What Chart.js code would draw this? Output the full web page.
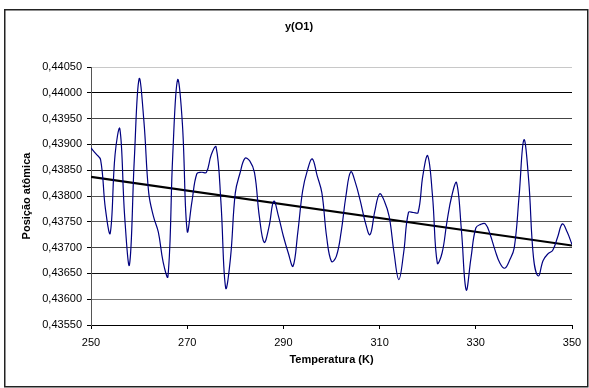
<!DOCTYPE html>
<html lang="pt">
<head>
<meta charset="UTF-8">
<title>y(O1)</title>
<script src="https://cdn.jsdelivr.net/npm/chart.js"></script>
<style>
  body { margin: 0; background: #fff; }
  canvas { display: block; }
</style>
</head>
<body>
<canvas id="chart" width="589" height="388"></canvas>
<script>
// temperature (K) and atomic position y(O1)
const temps = [
  250, 251, 252, 253, 254, 255, 256, 257, 258, 259,
  260, 261, 262, 263, 264, 265, 266, 267, 268, 269,
  270, 271, 272, 273, 274, 275, 276, 277, 278, 279,
  280, 281, 282, 283, 284, 285, 286, 287, 288, 289,
  290, 291, 292, 293, 294, 295, 296, 297, 298, 299,
  300, 301, 302, 303, 304, 305, 306, 307, 308, 309,
  310, 311, 312, 313, 314, 315, 316, 317, 318, 319,
  320, 321, 322, 323, 324, 325, 326, 327, 328, 329,
  330, 331, 332, 333, 334, 335, 336, 337, 338, 339,
  340, 341, 342, 343, 344, 345, 346, 347, 348, 349,
  350
];
const posO1 = [
  0.43893, 0.43882, 0.43870, 0.43775, 0.43728, 0.43880, 0.43930, 0.43760, 0.43667, 0.43870,
  0.44027, 0.43945, 0.43806, 0.43760, 0.43730, 0.43672, 0.43644, 0.43880, 0.44025, 0.43940,
  0.43732, 0.43790, 0.43843, 0.43846, 0.43846, 0.43880, 0.43895, 0.43790, 0.43622, 0.43680,
  0.43806, 0.43845, 0.43873, 0.43868, 0.43845, 0.43760, 0.43710, 0.43740, 0.43790, 0.43760,
  0.43722, 0.43690, 0.43664, 0.43730, 0.43810, 0.43850, 0.43872, 0.43840, 0.43806, 0.43720,
  0.43673, 0.43683, 0.43730, 0.43800, 0.43847, 0.43825, 0.43790, 0.43750, 0.43725, 0.43770,
  0.43804, 0.43790, 0.43760, 0.43690, 0.43638, 0.43690, 0.43768, 0.43768, 0.43768, 0.43840,
  0.43878, 0.43800, 0.43670, 0.43690, 0.43750, 0.43800, 0.43826, 0.43735, 0.43618, 0.43680,
  0.43738, 0.43745, 0.43746, 0.43725, 0.43695, 0.43670, 0.43660, 0.43675, 0.43700, 0.43800,
  0.43909, 0.43830, 0.43680, 0.43645, 0.43675, 0.43688, 0.43695, 0.43720, 0.43746, 0.43730,
  0.43706
];

// linear trend endpoints
const trendTemps = [250, 350];
const trendPos = [0.43837, 0.43704];

const yMin = 0.43550, yMax = 0.44050, yStep = 0.0005;
const xMin = 250, xMax = 350, xStep = 20;

// gridline shades, bottom to top
const gridShades = ['#000', '#777', '#111', '#444', '#555', '#555', '#222', '#111', '#444', '#000', '#c8c8c8'];

const FONT = '"Liberation Sans", Arial, sans-serif';

const frame = {
  id: 'frame',
  afterDraw(chart) {
    const c = chart.ctx;
    c.save();
    c.strokeStyle = '#222';
    c.lineWidth = 1.5;
    c.strokeRect(4.75, 9.75, 583, 377);
    c.fillStyle = '#000';
    c.font = 'bold 11px ' + FONT;
    c.textAlign = 'center';
    c.textBaseline = 'middle';
    c.fillText('y(O1)', 299, 27);
    c.restore();
  }
};

new Chart(document.getElementById('chart'), {
  type: 'line',
  data: {
    datasets: [
      {
        data: temps.map((t, i) => ({ x: t, y: posO1[i] })),
        borderColor: '#000080',
        borderWidth: 1.2,
        pointRadius: 0,
        tension: 0.4,
        fill: false
      },
      {
        data: trendTemps.map((t, i) => ({ x: t, y: trendPos[i] })),
        borderColor: '#000',
        borderWidth: 2.2,
        pointRadius: 0,
        tension: 0,
        fill: false
      }
    ]
  },
  options: {
    responsive: false,
    animation: false,
    layout: { padding: { left: 6, right: 17, top: 67, bottom: 12 } },
    plugins: {
      legend: { display: false },
      tooltip: { enabled: false }
    },
    scales: {
      x: {
        type: 'linear',
        min: xMin,
        max: xMax,
        afterFit: s => { s.height = 51; },
        ticks: {
          stepSize: xStep,
          maxRotation: 0,
          autoSkip: false,
          padding: 7,
          color: '#000',
          font: { family: FONT, size: 11 }
        },
        grid: { drawOnChartArea: false, drawTicks: true, tickLength: 4, tickColor: '#000' },
        border: { color: '#000', width: 1 },
        title: {
          display: true,
          text: 'Temperatura (K)',
          color: '#000',
          font: { family: FONT, size: 11, weight: 'bold' },
          padding: { top: 9, bottom: 9 }
        }
      },
      y: {
        min: yMin,
        max: yMax,
        afterFit: s => { s.width = 85; },
        ticks: {
          stepSize: yStep,
          padding: 5,
          color: '#000',
          font: { family: FONT, size: 11 },
          callback: v => v.toFixed(5).replace('.', ',')
        },
        grid: {
          color: ctx => gridShades[ctx.index] || '#000',
          lineWidth: 1,
          drawTicks: true,
          tickLength: 4,
          tickColor: '#000'
        },
        border: { color: '#555', width: 1 },
        title: {
          display: true,
          text: 'Posição atômica',
          color: '#000',
          font: { family: FONT, size: 11, weight: 'bold' },
          padding: { top: 14, bottom: 0 }
        }
      }
    }
  },
  plugins: [frame]
});
</script>
</body>
</html>
